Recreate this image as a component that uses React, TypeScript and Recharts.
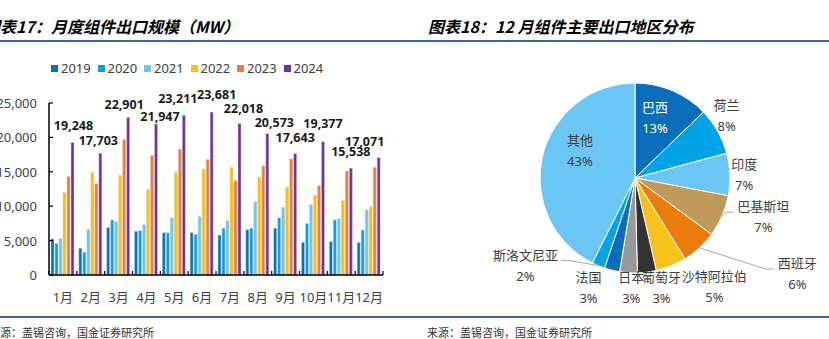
import React from "react";
import { BarChart, Bar, XAxis, YAxis, LabelList, PieChart, Pie, Cell } from "recharts";

const months = ["1月", "2月", "3月", "4月", "5月", "6月", "7月", "8月", "9月", "10月", "11月", "12月"];
const years = ["2019", "2020", "2021", "2022", "2023", "2024"];
const v2019 = [5250, 3900, 6900, 6350, 6150, 6150, 5800, 6600, 6800, 4750, 4850, 4700];
const v2020 = [4600, 3300, 8000, 6450, 6150, 5900, 6800, 6800, 8300, 7500, 8000, 6550];
const v2021 = [5300, 6600, 7750, 7350, 8300, 8500, 7900, 10650, 9850, 10200, 8200, 9450];
const v2022 = [12000, 14900, 14500, 12450, 14900, 15400, 15650, 14200, 12750, 11600, 10800, 9900];
const v2023 = [14300, 13300, 19700, 17400, 18300, 16800, 13700, 15850, 16850, 13000, 15100, 15650];
const v2024 = [19248, 17703, 22901, 21947, 23211, 23681, 22018, 20573, 17643, 19377, 15538, 17071];
const yTicks = [0, 5000, 10000, 15000, 20000, 25000];

const regions = ["巴西", "荷兰", "印度", "巴基斯坦", "西班牙", "沙特阿拉伯", "葡萄牙", "日本", "法国", "斯洛文尼亚", "其他"];
const shares = [12.8, 8.0, 7.2, 7.1, 6.1, 5.2, 3.2, 3.0, 2.6, 2.2, 42.6];

const barColors = ["#0070C0", "#00A0E9", "#6DC5F5", "#FFC000", "#ED7D31", "#7030A0"];
const pieColors = ["#0A6EBD", "#00A2E8", "#6AC6F4", "#BE9B5B", "#EB7B0A", "#F8C11B", "#333333", "#999999", "#0A6EBD", "#00A2E8", "#6AC6F4"];

// label tweaks (the source chart hand-placed its labels)
const topLabelNudge = [[1, 17], [-2, 13], [-4, 13], [4, 8], [-6, 17], [5, 18], [4, 15], [7, 11], [0, 16], [0, 18], [0, 17], [-14, 16]];
const pieLabelRadius = [0.68, 1.17, 1.15, 1.41, 1.98, 1.41, 1.18, 1.15, 1.25, 1.47, 0.65];
const pieLabelShift = [5, 5, 0, 7, 17, 14, 6.5, 2, -9, -29, -13.5];
const pieLeader = [false, false, false, true, true, false, false, false, false, true, false];

const barData = months.map((m, i) => ({
  month: m,
  "2019": v2019[i],
  "2020": v2020[i],
  "2021": v2021[i],
  "2022": v2022[i],
  "2023": v2023[i],
  "2024": v2024[i],
}));
const pieData = regions.map((r, i) => ({ name: r, value: shares[i] }));

const FONT = "'Noto Sans', 'Noto Sans CJK SC', sans-serif";
const TXT = "#404040";
const BAND = 334 / 12;
const RAD = Math.PI / 180;

const fmt = (v: number) => v.toLocaleString("en-US");

const YTick = (p: any) => (
  <g>
    <line x1={p.x} x2={p.x + 4} y1={p.y} y2={p.y} stroke="#000" strokeWidth={1.2} />
    <text x={p.x - 12} y={p.y} textAnchor="end" dominantBaseline="central" fontSize={13} fill={TXT} fontFamily={FONT}>
      {fmt(p.payload.value)}
    </text>
  </g>
);

const MonthTick = (p: any) => (
  <g>
    <line x1={p.x - BAND / 2} x2={p.x - BAND / 2} y1={p.y} y2={p.y - 4} stroke="#000" strokeWidth={1.2} />
    {p.index === months.length - 1 && (
      <line x1={p.x + BAND / 2} x2={p.x + BAND / 2} y1={p.y} y2={p.y - 4} stroke="#000" strokeWidth={1.2} />
    )}
    <text x={p.x} y={p.y + 22} textAnchor="middle" dominantBaseline="central" fontSize={13} fill={TXT} fontFamily={FONT}>
      {p.payload.value}
    </text>
  </g>
);

const TopLabel = (p: any) => {
  const i = v2024.indexOf(p.value);
  const [dx, up] = topLabelNudge[i] || [0, 14];
  return (
    <text x={p.x + p.width / 2 + dx} y={p.y - up} textAnchor="middle" dominantBaseline="central" fontSize={12.5} fontWeight="bold" fill="#1a1a1a" fontFamily={FONT}>
      {fmt(p.value)}
    </text>
  );
};

const YearLegend = () => (
  <div style={{ position: "absolute", left: 51, top: 60, display: "flex", fontFamily: FONT, fontSize: 13, lineHeight: "16px", color: TXT }}>
    {years.map((y, i) => (
      <div key={y} style={{ display: "flex", alignItems: "center", width: 46.5 }}>
        <span style={{ width: 7, height: 7, background: barColors[i], marginRight: 3 }} />
        <span>{y}</span>
      </div>
    ))}
  </div>
);

const PieLabel = (p: any) => {
  const i = p.index;
  const ang = p.midAngle + pieLabelShift[i];
  const r = p.outerRadius * pieLabelRadius[i];
  const lx = p.cx + r * Math.cos(-ang * RAD);
  const ly = p.cy + r * Math.sin(-ang * RAD);
  const color = i === 0 ? "#fff" : TXT;
  let leader = null;
  if (pieLeader[i]) {
    const sx = p.cx + p.outerRadius * Math.cos(-p.midAngle * RAD);
    const sy = p.cy + p.outerRadius * Math.sin(-p.midAngle * RAD);
    const half = (p.name.length * 13) / 2;
    const side = lx > p.cx ? -1 : 1;
    const ex = lx + side * (half + 4);
    const ey = ly - 4;
    const mx = ex + side * 8;
    leader = <polyline points={`${sx},${sy} ${mx},${ey} ${ex},${ey}`} fill="none" stroke="#a6a6a6" strokeWidth={1} />;
  }
  return (
    <g>
      {leader}
      <text x={lx} y={ly - 10} textAnchor="middle" dominantBaseline="central" fontSize={13} fill={color} fontFamily={FONT}>
        {p.name}
      </text>
      <text x={lx} y={ly + 11} textAnchor="middle" dominantBaseline="central" fontSize={13} fill={color} fontFamily={FONT}>
        {`${Math.round(p.percent * 100)}%`}
      </text>
    </g>
  );
};

const titleStyle: React.CSSProperties = {
  position: "absolute",
  top: 16,
  fontSize: 16,
  lineHeight: "20px",
  fontWeight: "bold",
  fontStyle: "italic",
  fontFamily: "'Noto Sans CJK SC', sans-serif",
  color: "#000",
  whiteSpace: "nowrap",
};

const sourceStyle: React.CSSProperties = {
  position: "absolute",
  top: 324,
  fontSize: 11,
  lineHeight: "16px",
  fontFamily: "'Noto Sans CJK SC', serif",
  color: "#333",
  whiteSpace: "nowrap",
};

export default function App() {
  return (
    <div style={{ position: "absolute", left: 0, top: 0, width: 829, height: 339, overflow: "hidden", background: "#fff" }}>
      <div style={{ ...titleStyle, left: -16 }}>图表17：月度组件出口规模（MW）</div>
      <div style={{ ...titleStyle, left: 428 }}>图表18：12 月组件主要出口地区分布</div>
      <div style={{ position: "absolute", left: 0, top: 40, width: 829, height: 2, background: "#3A6A93" }} />
      <div style={{ position: "absolute", left: 0, top: 316, width: 829, height: 2, background: "#3A6A93" }} />
      <div style={{ ...sourceStyle, left: -11 }}>来源：盖锡咨询，国金证券研究所</div>
      <div style={{ ...sourceStyle, left: 427 }}>来源：盖锡咨询，国金证券研究所</div>

      <YearLegend />

      <div style={{ position: "absolute", left: 0, top: 50 }}>
        <BarChart width={400} height={260} data={barData} margin={{ top: 53, right: 17, bottom: 5, left: 0 }} barSize={3} barGap={1}>
          <YAxis
            width={49}
            domain={[0, 25000]}
            ticks={yTicks}
            interval={0}
            axisLine={{ stroke: "#000", strokeWidth: 1.5 }}
            tickLine={false}
            tickSize={0}
            tickMargin={0}
            tick={<YTick />}
          />
          <XAxis
            dataKey="month"
            height={30}
            interval={0}
            axisLine={{ stroke: "#000", strokeWidth: 1.5 }}
            tickLine={false}
            tickSize={0}
            tickMargin={0}
            tick={<MonthTick />}
          />
          {years.map((y, i) => (
            <Bar key={y} dataKey={y} fill={barColors[i]} stroke="#d0d0d0" strokeWidth={0.5} isAnimationActive={false}>
              {y === "2024" && <LabelList dataKey="2024" content={<TopLabel />} />}
            </Bar>
          ))}
        </BarChart>
      </div>

      <div style={{ position: "absolute", left: 420, top: 45 }}>
        <PieChart width={409} height={272} margin={{ top: 0, right: 0, bottom: 0, left: 0 }}>
          <Pie
            data={pieData}
            dataKey="value"
            nameKey="name"
            cx={215}
            cy={133}
            outerRadius={95}
            startAngle={90}
            endAngle={-270}
            stroke="#fff"
            strokeWidth={1}
            labelLine={false}
            label={PieLabel}
            isAnimationActive={false}
          >
            {pieData.map((d, i) => (
              <Cell key={d.name} fill={pieColors[i]} />
            ))}
          </Pie>
        </PieChart>
      </div>
    </div>
  );
}
